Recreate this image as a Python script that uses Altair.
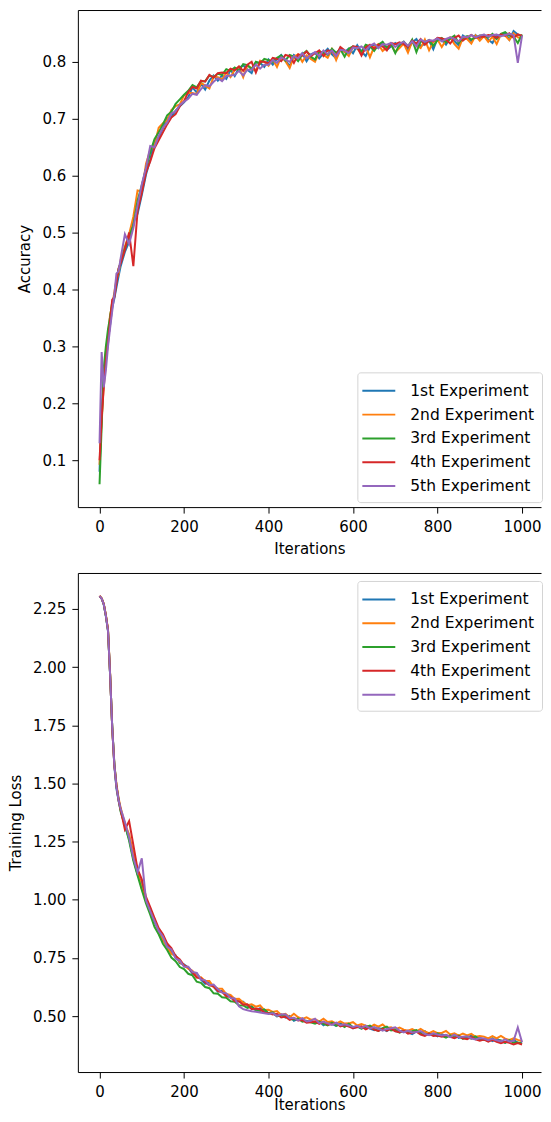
import altair as alt
import pandas as pd

SERIES = ["1st Experiment", "2nd Experiment", "3rd Experiment", "4th Experiment", "5th Experiment"]
COLORS = ["#1f77b4", "#ff7f0e", "#2ca02c", "#d62728", "#9467bd"]

ITER = [0, 5, 10, 15, 20, 25, 30, 35, 40, 45, 50] + list(range(60, 1001, 10))

X_TICKS = [0, 200, 400, 600, 800, 1000]
ACC_TICKS = [0.1, 0.2, 0.3, 0.4, 0.5, 0.6, 0.7, 0.8]
LOSS_TICKS = [0.5, 0.75, 1.0, 1.25, 1.5, 1.75, 2.0, 2.25]

ACC_1 = [0.080, 0.185, 0.240, 0.282, 0.312, 0.338, 0.368, 0.384, 0.404, 0.423, 0.441,
         0.466, 0.484, 0.522, 0.533, 0.566,
         0.602, 0.628, 0.661, 0.667, 0.683, 0.701, 0.703, 0.714, 0.722, 0.729,
         0.738, 0.755, 0.746, 0.761, 0.751, 0.767, 0.776, 0.767, 0.776, 0.770,
         0.786, 0.775, 0.789, 0.794, 0.786, 0.780, 0.799, 0.798, 0.791, 0.804,
         0.795, 0.805, 0.812, 0.803, 0.792, 0.812, 0.807, 0.815, 0.801, 0.813,
         0.816, 0.806, 0.815, 0.823, 0.813, 0.806, 0.824, 0.817, 0.823, 0.815,
         0.829, 0.818, 0.810, 0.826, 0.830, 0.824, 0.834, 0.821, 0.827, 0.833,
         0.827, 0.835, 0.822, 0.834, 0.840, 0.827, 0.832, 0.837, 0.822, 0.841,
         0.838, 0.830, 0.842, 0.836, 0.829, 0.846, 0.841, 0.836, 0.847, 0.839,
         0.847, 0.839, 0.833, 0.847, 0.845, 0.851, 0.839, 0.854, 0.848, 0.844]
ACC_2 = [0.092, 0.170, 0.235, 0.292, 0.318, 0.356, 0.372, 0.395, 0.418, 0.428, 0.452,
         0.476, 0.497, 0.528, 0.574, 0.572,
         0.621, 0.645, 0.653, 0.684, 0.692, 0.697, 0.715, 0.722, 0.725, 0.741,
         0.745, 0.745, 0.743, 0.763, 0.758, 0.753, 0.774, 0.773, 0.769, 0.781,
         0.773, 0.786, 0.791, 0.773, 0.794, 0.789, 0.784, 0.802, 0.800, 0.793,
         0.804, 0.791, 0.809, 0.801, 0.789, 0.809, 0.813, 0.800, 0.811, 0.805,
         0.800, 0.817, 0.812, 0.807, 0.822, 0.803, 0.821, 0.818, 0.810, 0.826,
         0.824, 0.813, 0.827, 0.808, 0.826, 0.831, 0.819, 0.825, 0.831, 0.817,
         0.824, 0.832, 0.816, 0.836, 0.829, 0.824, 0.839, 0.820, 0.835, 0.839,
         0.826, 0.838, 0.843, 0.831, 0.823, 0.842, 0.840, 0.832, 0.846, 0.837,
         0.845, 0.835, 0.844, 0.831, 0.848, 0.846, 0.838, 0.850, 0.843, 0.841]
ACC_3 = [0.058, 0.160, 0.262, 0.300, 0.330, 0.352, 0.378, 0.388, 0.415, 0.436, 0.448,
         0.472, 0.494, 0.512, 0.556, 0.583,
         0.612, 0.641, 0.664, 0.676, 0.690, 0.706, 0.712, 0.726, 0.734, 0.742,
         0.749, 0.759, 0.755, 0.766, 0.766, 0.776, 0.773, 0.779, 0.777, 0.787,
         0.784, 0.790, 0.784, 0.796, 0.794, 0.787, 0.800, 0.797, 0.805, 0.803,
         0.800, 0.807, 0.811, 0.802, 0.812, 0.809, 0.801, 0.813, 0.819, 0.809,
         0.804, 0.818, 0.816, 0.812, 0.823, 0.816, 0.822, 0.809, 0.823, 0.827,
         0.823, 0.818, 0.830, 0.827, 0.819, 0.830, 0.835, 0.825, 0.831, 0.815,
         0.831, 0.835, 0.827, 0.839, 0.817, 0.836, 0.834, 0.838, 0.828, 0.838,
         0.842, 0.834, 0.841, 0.846, 0.833, 0.842, 0.845, 0.839, 0.843, 0.846,
         0.846, 0.843, 0.849, 0.840, 0.849, 0.852, 0.846, 0.844, 0.833, 0.848]
ACC_4 = [0.100, 0.175, 0.228, 0.275, 0.305, 0.345, 0.382, 0.386, 0.411, 0.437, 0.446,
         0.470, 0.500, 0.441, 0.538, 0.570,
         0.606, 0.625, 0.648, 0.662, 0.676, 0.690, 0.702, 0.708, 0.722, 0.731,
         0.747, 0.756, 0.753, 0.767, 0.765, 0.777, 0.772, 0.780, 0.781, 0.780,
         0.788, 0.785, 0.792, 0.784, 0.795, 0.800, 0.781, 0.800, 0.800, 0.797,
         0.807, 0.805, 0.801, 0.812, 0.810, 0.798, 0.813, 0.811, 0.818, 0.810,
         0.815, 0.820, 0.810, 0.820, 0.818, 0.811, 0.826, 0.820, 0.817, 0.827,
         0.826, 0.811, 0.825, 0.830, 0.823, 0.830, 0.827, 0.820, 0.833, 0.831,
         0.834, 0.831, 0.826, 0.837, 0.832, 0.840, 0.830, 0.837, 0.836, 0.842,
         0.841, 0.839, 0.832, 0.842, 0.846, 0.837, 0.843, 0.847, 0.842, 0.844,
         0.844, 0.847, 0.846, 0.842, 0.848, 0.846, 0.850, 0.842, 0.848, 0.846]
ACC_5 = [0.130, 0.290, 0.228, 0.258, 0.300, 0.332, 0.362, 0.391, 0.428, 0.432, 0.455,
         0.497, 0.480, 0.508, 0.548, 0.585,
         0.614, 0.652, 0.650, 0.670, 0.684, 0.693, 0.709, 0.713, 0.724, 0.730,
         0.735, 0.744, 0.742, 0.752, 0.759, 0.757, 0.765, 0.771, 0.766, 0.775,
         0.776, 0.777, 0.784, 0.776, 0.786, 0.786, 0.795, 0.788, 0.795, 0.795,
         0.803, 0.798, 0.808, 0.804, 0.800, 0.810, 0.806, 0.815, 0.806, 0.812,
         0.817, 0.810, 0.820, 0.813, 0.820, 0.810, 0.821, 0.820, 0.815, 0.825,
         0.824, 0.827, 0.820, 0.828, 0.832, 0.824, 0.831, 0.830, 0.833, 0.826,
         0.832, 0.835, 0.828, 0.836, 0.827, 0.839, 0.835, 0.838, 0.837, 0.841,
         0.836, 0.840, 0.843, 0.840, 0.836, 0.844, 0.843, 0.847, 0.843, 0.846,
         0.848, 0.844, 0.847, 0.848, 0.845, 0.847, 0.849, 0.847, 0.798, 0.846]

LOSS_1 = [2.305, 2.294, 2.268, 2.218, 2.155, 1.965, 1.742, 1.575, 1.478, 1.425, 1.384,
          1.318, 1.262, 1.176, 1.108, 1.072,
          0.992, 0.962, 0.903, 0.874, 0.826, 0.812, 0.774, 0.762, 0.728, 0.722,
          0.708, 0.682, 0.684, 0.657, 0.639, 0.646, 0.626, 0.605, 0.609, 0.591,
          0.586, 0.566, 0.563, 0.562, 0.543, 0.543, 0.525, 0.534, 0.521, 0.512,
          0.514, 0.499, 0.507, 0.494, 0.501, 0.480, 0.488, 0.488, 0.475, 0.478,
          0.471, 0.477, 0.461, 0.472, 0.467, 0.458, 0.469, 0.458, 0.463, 0.448,
          0.456, 0.447, 0.458, 0.446, 0.440, 0.449, 0.444, 0.436, 0.449, 0.436,
          0.432, 0.440, 0.431, 0.423, 0.434, 0.428, 0.435, 0.419, 0.425, 0.413,
          0.423, 0.414, 0.417, 0.422, 0.406, 0.411, 0.405, 0.418, 0.404, 0.407,
          0.398, 0.403, 0.393, 0.402, 0.394, 0.386, 0.395, 0.398, 0.385, 0.386]
LOSS_2 = [2.306, 2.296, 2.272, 2.225, 2.162, 1.972, 1.738, 1.583, 1.497, 1.438, 1.395,
          1.326, 1.281, 1.202, 1.127, 1.048,
          1.006, 0.943, 0.918, 0.858, 0.828, 0.796, 0.768, 0.758, 0.732, 0.718,
          0.704, 0.695, 0.668, 0.667, 0.651, 0.651, 0.625, 0.619, 0.618, 0.595,
          0.591, 0.574, 0.575, 0.559, 0.547, 0.551, 0.541, 0.546, 0.526, 0.527,
          0.518, 0.522, 0.505, 0.510, 0.495, 0.510, 0.495, 0.488, 0.495, 0.485,
          0.487, 0.477, 0.489, 0.475, 0.478, 0.468, 0.477, 0.468, 0.469, 0.474,
          0.460, 0.466, 0.459, 0.452, 0.463, 0.455, 0.464, 0.449, 0.452, 0.443,
          0.451, 0.442, 0.437, 0.444, 0.435, 0.445, 0.434, 0.427, 0.436, 0.427,
          0.428, 0.436, 0.421, 0.426, 0.416, 0.425, 0.417, 0.424, 0.411, 0.415,
          0.412, 0.404, 0.414, 0.404, 0.415, 0.403, 0.398, 0.405, 0.398, 0.392]
LOSS_3 = [2.305, 2.295, 2.270, 2.220, 2.158, 1.968, 1.745, 1.588, 1.488, 1.432, 1.378,
          1.322, 1.254, 1.168, 1.104, 1.042,
          0.984, 0.936, 0.884, 0.852, 0.811, 0.784, 0.752, 0.736, 0.711, 0.702,
          0.682, 0.675, 0.648, 0.643, 0.625, 0.620, 0.598, 0.596, 0.581, 0.579,
          0.564, 0.562, 0.547, 0.546, 0.535, 0.540, 0.525, 0.522, 0.529, 0.512,
          0.516, 0.500, 0.503, 0.504, 0.488, 0.486, 0.490, 0.476, 0.480, 0.473,
          0.468, 0.476, 0.467, 0.460, 0.472, 0.459, 0.464, 0.453, 0.467, 0.452,
          0.455, 0.446, 0.454, 0.459, 0.444, 0.437, 0.448, 0.455, 0.438, 0.441,
          0.429, 0.436, 0.428, 0.435, 0.440, 0.424, 0.419, 0.425, 0.418, 0.426,
          0.415, 0.408, 0.417, 0.409, 0.416, 0.402, 0.410, 0.403, 0.413, 0.398,
          0.401, 0.393, 0.404, 0.392, 0.396, 0.385, 0.397, 0.386, 0.387, 0.381]
LOSS_4 = [2.306, 2.295, 2.271, 2.222, 2.160, 1.970, 1.740, 1.579, 1.492, 1.428, 1.386,
          1.302, 1.338, 1.236, 1.132, 1.088,
          1.012, 0.968, 0.922, 0.878, 0.852, 0.812, 0.792, 0.758, 0.744, 0.718,
          0.710, 0.688, 0.666, 0.663, 0.646, 0.632, 0.628, 0.608, 0.604, 0.585,
          0.582, 0.564, 0.564, 0.549, 0.551, 0.530, 0.533, 0.530, 0.515, 0.513,
          0.507, 0.510, 0.494, 0.498, 0.484, 0.492, 0.481, 0.483, 0.472, 0.474,
          0.477, 0.467, 0.476, 0.464, 0.465, 0.471, 0.456, 0.462, 0.455, 0.448,
          0.452, 0.456, 0.443, 0.452, 0.442, 0.436, 0.445, 0.438, 0.446, 0.435,
          0.431, 0.437, 0.425, 0.429, 0.433, 0.421, 0.415, 0.425, 0.415, 0.417,
          0.412, 0.419, 0.411, 0.405, 0.413, 0.405, 0.401, 0.410, 0.400, 0.394,
          0.399, 0.390, 0.398, 0.390, 0.384, 0.390, 0.385, 0.378, 0.384, 0.378]
LOSS_5 = [2.305, 2.295, 2.270, 2.221, 2.157, 1.967, 1.741, 1.582, 1.486, 1.430, 1.391,
          1.335, 1.268, 1.181, 1.118, 1.178,
          0.998, 0.951, 0.908, 0.866, 0.842, 0.798, 0.787, 0.748, 0.739, 0.712,
          0.712, 0.690, 0.686, 0.658, 0.654, 0.633, 0.636, 0.616, 0.601, 0.598,
          0.578, 0.576, 0.542, 0.530, 0.525, 0.521, 0.519, 0.516, 0.512, 0.509,
          0.513, 0.501, 0.507, 0.508, 0.491, 0.493, 0.482, 0.491, 0.477, 0.480,
          0.489, 0.470, 0.476, 0.469, 0.462, 0.472, 0.461, 0.465, 0.460, 0.453,
          0.458, 0.449, 0.459, 0.447, 0.453, 0.446, 0.438, 0.445, 0.448, 0.452,
          0.438, 0.430, 0.438, 0.430, 0.432, 0.436, 0.423, 0.418, 0.426, 0.421,
          0.417, 0.420, 0.410, 0.420, 0.410, 0.411, 0.413, 0.404, 0.400, 0.406,
          0.404, 0.397, 0.403, 0.396, 0.391, 0.400, 0.391, 0.394, 0.451, 0.388]

ACC = [ACC_1, ACC_2, ACC_3, ACC_4, ACC_5]
LOSS = [LOSS_1, LOSS_2, LOSS_3, LOSS_4, LOSS_5]

rows = []
for name, acc, loss in zip(SERIES, ACC, LOSS):
    for it, a, l in zip(ITER, acc, loss):
        rows.append({"Iterations": it, "Series": name, "Accuracy": a, "Loss": l})
df = pd.DataFrame(rows)

X_DOMAIN = [-51.3, 1044.9]
W = 464


def panel(field, ytitle, ydomain, yticks, yfmt, height, legend_y, xtitle_y, ytitle_x):
    xscale = alt.Scale(domain=X_DOMAIN, nice=False, zero=False)
    yscale = alt.Scale(domain=ydomain, nice=False, zero=False)
    legend = alt.Legend(
        orient="none", legendX=280, legendY=legend_y, title=None,
        symbolType="M-1.65,0L1.65,0", symbolSize=400, symbolStrokeWidth=2,
        symbolOffset=3, labelOffset=20.5, padding=7.5, rowPadding=3.85,
        strokeColor="#d4d4d4", cornerRadius=3, fillColor="white",
        labelFontSize=15.5, labelFont="DejaVu Sans", labelColor="black",
    )
    lines = alt.Chart(df).mark_line(strokeWidth=2, clip=True).encode(
        x=alt.X("Iterations:Q", scale=xscale,
                axis=alt.Axis(values=X_TICKS, format="d", title="Iterations",
                              titleY=xtitle_y, titleBaseline="alphabetic")),
        y=alt.Y(f"{field}:Q", scale=yscale,
                axis=alt.Axis(values=yticks, format=yfmt, title=ytitle,
                              titleX=ytitle_x, titleBaseline="alphabetic", titleAngle=270)),
        color=alt.Color("Series:N", scale=alt.Scale(domain=SERIES, range=COLORS), legend=legend),
    )
    frame = alt.Chart(df).mark_point(opacity=0, size=1).encode(
        x=alt.X("Iterations:Q", scale=xscale,
                axis=alt.Axis(orient="top", labels=False, ticks=False, title=None, grid=False)),
    )
    return alt.layer(lines, frame).resolve_axis(x="independent").properties(width=W, height=height)


top = panel("Accuracy", "Accuracy", [0.0178, 0.8909], ACC_TICKS, ".1f", 498, 363, 46, -48)
bottom = panel("Loss", "Training Loss", [0.2597, 2.4045], LOSS_TICKS, ".2f", 500, 8, 38, -57.5)

chart = alt.vconcat(top, bottom, spacing=66, bounds="flush").resolve_scale(
    color="independent"
).resolve_legend(color="independent").properties(
    padding=0
).configure(font="DejaVu Sans").configure_view(stroke="transparent").configure_axis(
    grid=False, domainColor="black", domainWidth=1, tickColor="black", tickSize=6,
    tickWidth=1, labelFontSize=15, labelColor="black", labelPadding=6,
    titleFontSize=15, titleFontWeight="normal", titleColor="black", labelFont="DejaVu Sans",
    titleFont="DejaVu Sans",
)

chart.save("out.html", embed_options={"renderer": "svg", "actions": False})
